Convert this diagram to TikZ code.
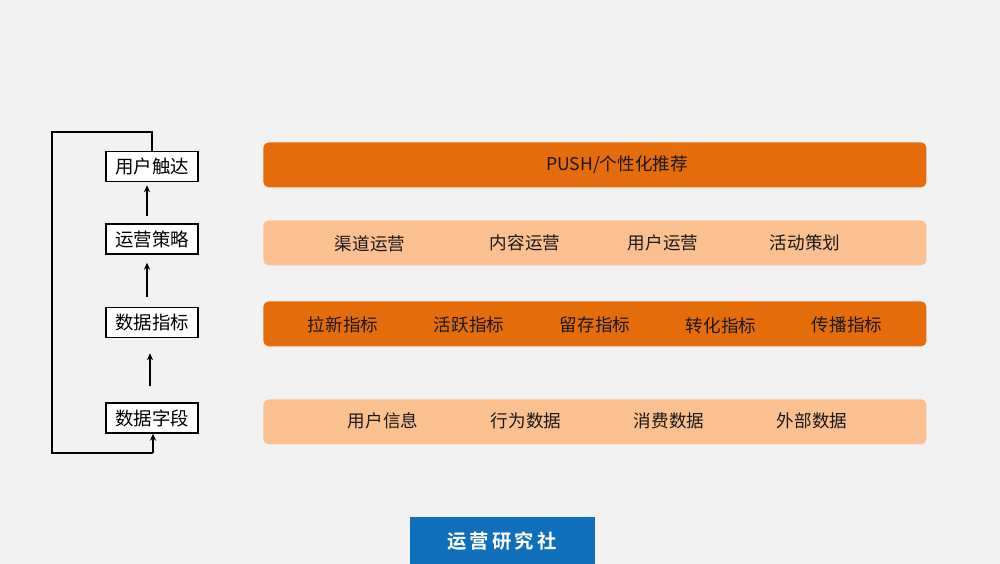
\documentclass[tikz,border=0pt]{standalone}
\usepackage{fontspec}
\setmainfont{Noto Sans CJK SC}
\newfontfamily\cjkbold[BoldFont={* Bold}]{Noto Sans CJK SC}
\usetikzlibrary{arrows.meta}
\definecolor{bgc}{HTML}{F2F2F2}
\definecolor{darkor}{HTML}{E46C0A}
\definecolor{lightor}{HTML}{FBC08F}
\definecolor{blueb}{HTML}{0F6FBA}
\begin{document}
\begin{tikzpicture}[x=0.02cm,y=-0.02cm,
  bar/.style={rounded corners=3pt,minimum width=663*0.02cm,minimum height=45*0.02cm,inner sep=0pt,anchor=north west},
  lbox/.style={draw=black,line width=0.8pt,fill=white,minimum width=92*0.02cm,minimum height=30*0.02cm,inner sep=0pt,font=\fontsize{10.5pt}{12pt}\selectfont},
  item/.style={font=\fontsize{10pt}{11pt}\selectfont,text=black!90},
  up/.style={-{Stealth[length=4pt,width=3.5pt]},line width=0.8pt}]
\fill[bgc] (0,0) rectangle (1000,564);
\useasboundingbox (0,0) rectangle (1000,564);
% bars
\node[bar,fill=darkor] (b1) at (263,142) {};
\node[bar,fill=lightor] (b2) at (263,220) {};
\node[bar,fill=darkor] (b3) at (263,301) {};
\node[bar,fill=lightor] (b4) at (263,399) {};
\node[item] (t1) at (617,165) {PUSH/个性化推荐};
\node[item] (t21) at (370,244) {渠道运营};
\node[item] (t22) at (525,243) {内容运营};
\node[item] (t23) at (663,243) {用户运营};
\node[item] (t24) at (805,243) {活动策划};
\node[item] (t31) at (343,325) {拉新指标};
\node[item] (t32) at (469,325) {活跃指标};
\node[item] (t33) at (595,325) {留存指标};
\node[item] (t34) at (721,326) {转化指标};
\node[item] (t35) at (847,325) {传播指标};
\node[item] (t41) at (383,421) {用户信息};
\node[item] (t42) at (526,421) {行为数据};
\node[item] (t43) at (669,421) {消费数据};
\node[item] (t44) at (812,421) {外部数据};
% left boxes
\node[lbox] (l1) at (152,166.5) {用户触达};
\node[lbox] (l2) at (152,239) {运营策略};
\node[lbox] (l3) at (152,322.5) {数据指标};
\node[lbox] (l4) at (152,418) {数据字段};
\draw[up] ([xshift=-5*0.02cm,yshift=7*0.02cm]l2.north) -- ([xshift=-5*0.02cm,yshift=-3*0.02cm]l1.south);
\draw[up] ([xshift=-5*0.02cm,yshift=10*0.02cm]l3.north) -- ([xshift=-5*0.02cm,yshift=-8*0.02cm]l2.south);
\draw[up] ([xshift=-2*0.02cm,yshift=16*0.02cm]l4.north) -- ([xshift=-2*0.02cm,yshift=-15*0.02cm]l3.south);
\coordinate (c1) at (152,132);
\coordinate (c2) at (52,132);
\coordinate (c3) at (52,453);
\coordinate (c4) at (153,453);
\draw[line width=0.8pt] (l1.north) -- (c1) -- (c2) -- (c3) -- (c4);
\draw[up] (c4) -- ([xshift=1*0.02cm]l4.south);
% logo
\node[fill=blueb,minimum width=185*0.02cm,minimum height=47*0.02cm,inner sep=0pt,anchor=north west] (logo) at (410,517) {};
\node[text=white,font=\cjkbold\bfseries\fontsize{11pt}{13pt}\selectfont] (logot) at (502,541) {运\,营\,研\,究\,社};
\end{tikzpicture}
\end{document}
